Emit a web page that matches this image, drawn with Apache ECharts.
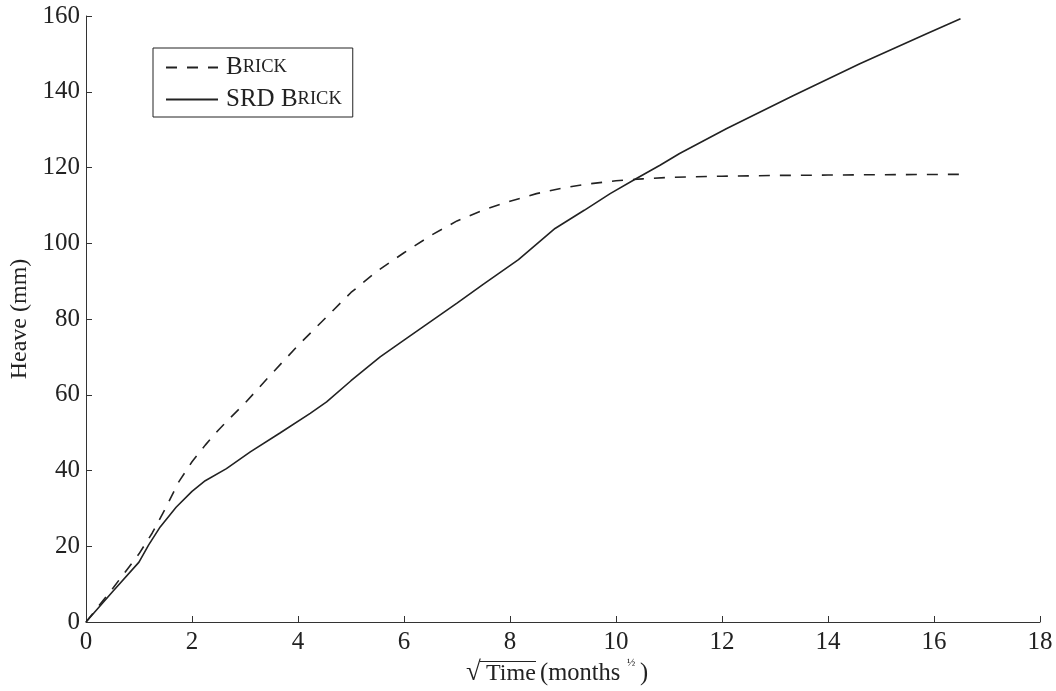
<!DOCTYPE html>
<html>
<head>
<meta charset="utf-8">
<script src="https://cdn.jsdelivr.net/npm/echarts@6/dist/echarts.min.js"></script>
<style>
html,body{margin:0;padding:0;background:#fff;}
#c{width:1056px;height:691px;}
</style>
</head>
<body>
<div id="c"></div>
<script>
// ---- data ----
const brickX = [0, 0.5, 1.0, 1.25, 1.5, 1.75, 2.0, 2.25, 2.5, 2.75, 3, 3.5, 4, 4.5, 5, 5.5, 6, 6.5, 7, 7.5, 8, 8.5, 9, 9.5, 10, 10.5, 11, 12, 13, 14, 15, 16.5];
const brickY = [0, 8.8, 18, 23.5, 30, 37, 42.3, 46.7, 50.7, 54.3, 57.8, 65.5, 73, 80, 87, 92.7, 97.5, 102, 105.9, 108.8, 111.1, 113.1, 114.6, 115.7, 116.5, 117, 117.4, 117.7, 117.9, 118, 118.1, 118.2];
const srdX = [0, 0.5, 1.0, 1.18, 1.4, 1.7, 2.0, 2.25, 2.65, 3.1, 3.66, 4.23, 4.54, 5, 5.55, 6, 7, 7.5, 8.16, 8.85, 9.4, 9.89, 10.36, 10.83, 11.2, 12.09, 13.35, 14.6, 15.86, 16.5];
const srdY = [0, 8, 15.8, 20.3, 25.1, 30.3, 34.5, 37.3, 40.5, 44.9, 49.9, 55.1, 58.1, 63.7, 70, 74.4, 84.2, 89.2, 95.7, 103.9, 108.7, 113.1, 116.9, 120.6, 123.7, 130.3, 139, 147.4, 155.3, 159.3];
const seriesNames = ['Brick', 'SRD Brick'];
const xTicks = {min: 0, max: 18, interval: 2};
const yTicks = {min: 0, max: 160, interval: 20};

const FONT = 'Liberation Serif';
const INK = '#222';
const chart = echarts.init(document.getElementById('c'));
const zip = (xs, ys) => xs.map((x, i) => [x, ys[i]]);

function txt(s, x, y, size) {
  return {type: 'text', x: x, y: y, silent: true,
    style: {text: s, fontFamily: FONT, fontSize: size, fill: INK, align: 'left', verticalAlign: 'middle'}};
}

chart.setOption({
  animation: false,
  backgroundColor: '#fff',
  grid: {left: 86, right: 16, top: 16, bottom: 69, containLabel: false, outerBoundsMode: 'none'},
  xAxis: {
    type: 'value', min: xTicks.min, max: xTicks.max, interval: xTicks.interval,
    axisLine: {onZero: false, lineStyle: {color: '#333', width: 1}},
    axisTick: {inside: true, length: 6, lineStyle: {color: '#333'}},
    splitLine: {show: false},
    axisLabel: {margin: 8, color: INK, fontFamily: FONT, fontSize: 25}
  },
  yAxis: {
    type: 'value', min: yTicks.min, max: yTicks.max, interval: yTicks.interval,
    name: 'Heave (mm)', nameLocation: 'middle', nameGap: 54, nameRotate: 90,
    nameTextStyle: {color: INK, fontFamily: FONT, fontSize: 24},
    axisLine: {show: true, onZero: false, lineStyle: {color: '#333', width: 1}},
    axisTick: {show: true, inside: true, length: 6, lineStyle: {color: '#333'}},
    splitLine: {show: false},
    axisLabel: {margin: 6, color: INK, fontFamily: FONT, fontSize: 25}
  },
  legend: {
    orient: 'vertical', left: 153, top: 48,
    padding: [7, 11, 5, 12], itemGap: 7, itemWidth: 52, itemHeight: 22,
    borderColor: INK, borderWidth: 1, borderRadius: 0,
    itemStyle: {color: 'rgba(0,0,0,0)', borderWidth: 0, opacity: 0},
    data: seriesNames,
    formatter: function (name) {
      if (name === 'Brick') return '{b|B}{s|RICK}';
      return '{b|SRD B}{s|RICK}';
    },
    textStyle: {
      padding: [0, 0, 0, 3],
      rich: {
        b: {fontFamily: FONT, fontSize: 25, color: INK},
        s: {fontFamily: FONT, fontSize: 18.5, color: INK}
      }
    }
  },
  graphic: [
    txt('√', 466, 673, 27),
    {type: 'line', silent: true, shape: {x1: 480, y1: 661.5, x2: 536, y2: 661.5}, style: {stroke: INK, lineWidth: 1}},
    txt('Time', 486, 674, 24),
    txt('(months', 540, 674, 24.5),
    txt('½', 627, 663, 11),
    txt(')', 640, 674, 24.5)
  ],
  series: [
    {name: seriesNames[0], type: 'line', data: zip(brickX, brickY), symbol: 'none', smooth: false,
     lineStyle: {color: INK, width: 1.6, type: [11, 10]}, itemStyle: {color: INK}},
    {name: seriesNames[1], type: 'line', data: zip(srdX, srdY), symbol: 'none', smooth: false,
     lineStyle: {color: INK, width: 1.6, type: 'solid'}, itemStyle: {color: INK}}
  ]
});
</script>
</body>
</html>
